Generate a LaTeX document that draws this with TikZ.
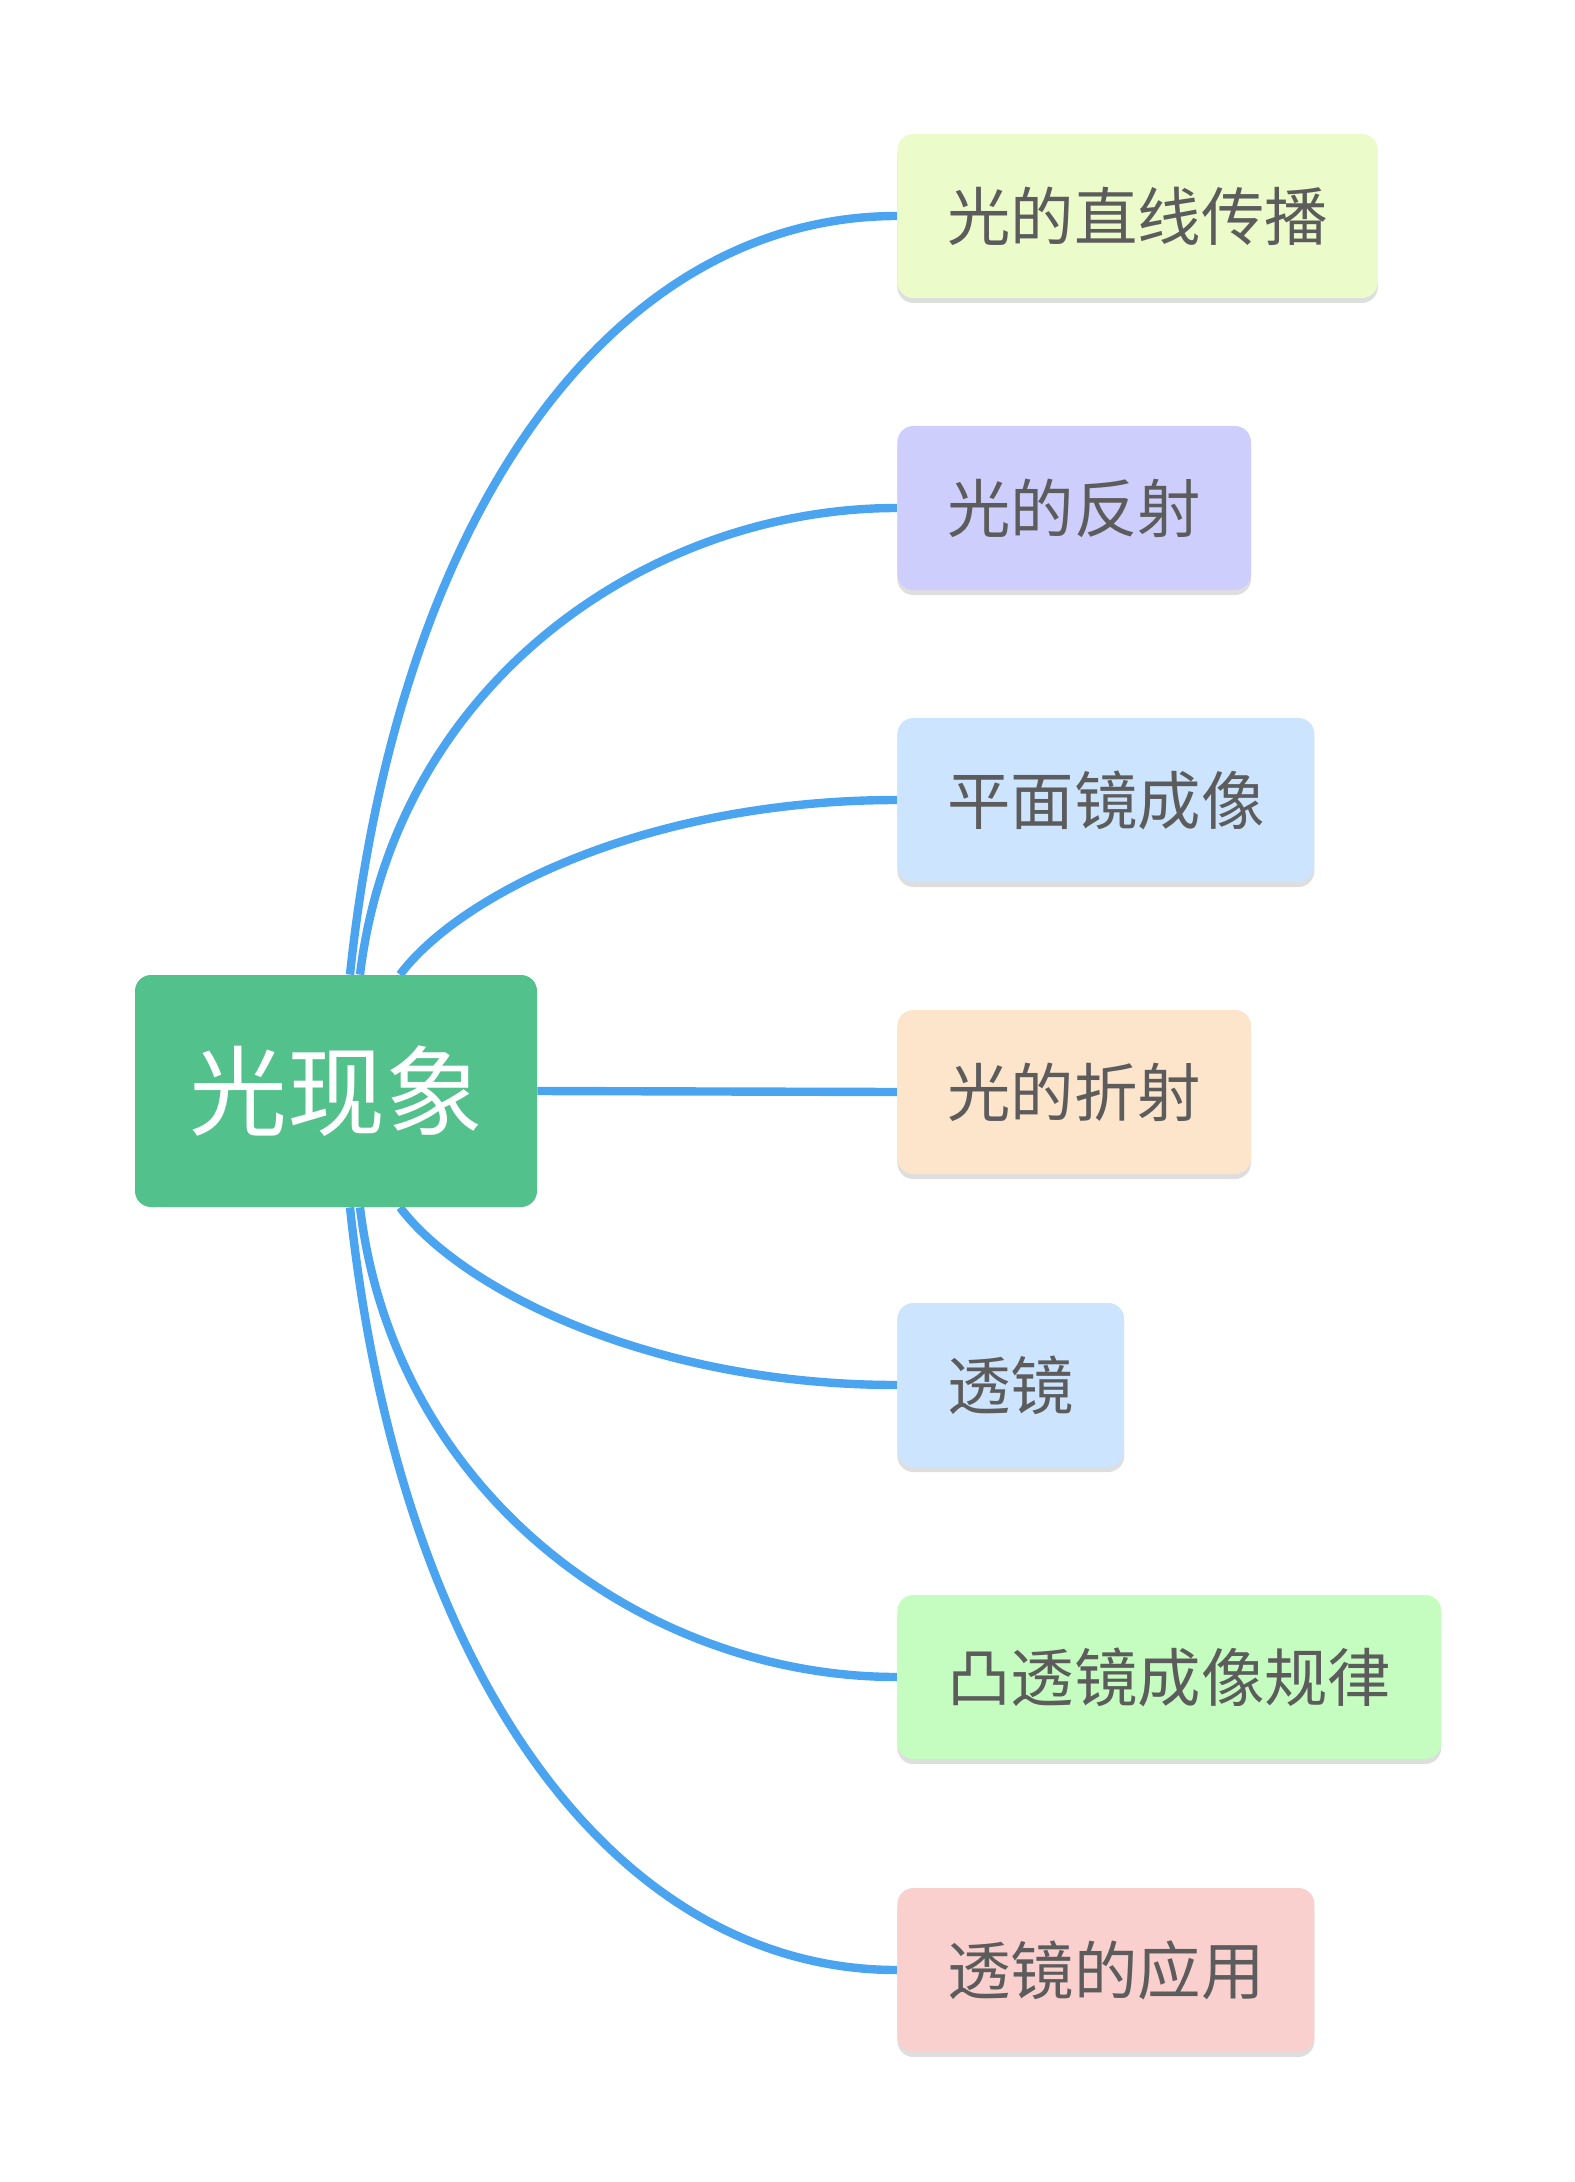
\documentclass[tikz,border=0pt]{standalone}
\usepackage{fontspec}
\newfontfamily\cjk{Noto Sans CJK SC}
\usetikzlibrary{shadows,backgrounds}
\definecolor{rootgreen}{HTML}{52C18B}
\definecolor{linkblue}{HTML}{4BA4EF}
\definecolor{txtgray}{HTML}{5C5C5C}
\definecolor{shadowgray}{HTML}{DEDEDE}
\definecolor{cA}{HTML}{EBFBCA}
\definecolor{cB}{HTML}{CECEFD}
\definecolor{cC}{HTML}{CCE4FD}
\definecolor{cD}{HTML}{FDE5CC}
\definecolor{cE}{HTML}{CCE4FD}
\definecolor{cF}{HTML}{C5FDC0}
\definecolor{cG}{HTML}{F9D0CE}
\begin{document}
\begin{tikzpicture}[x=0.5pt,y=-0.5pt,
  childbox/.style={anchor=west, rounded corners=8pt, inner xsep=25pt, inner ysep=0pt,
    minimum height=82pt, font=\cjk\fontsize{31.7}{31.7}\selectfont, text=txtgray,
    drop shadow={shadow xshift=0pt, shadow yshift=-2.5pt, fill=shadowgray, opacity=1}},
  rootbox/.style={fill=rootgreen, rounded corners=8pt, minimum width=201pt, minimum height=116pt,
    inner sep=0pt, font=\cjk\fontsize{49}{49}\selectfont, text=white},
  link/.style={draw=linkblue, line width=4.2pt}]
\useasboundingbox (0,0) rectangle (1574,2182);
\node[rootbox] (root) at (336,1091) {光现象};
\node[childbox, fill=cA] (b1) at (897,216) {光的直线传播};
\node[childbox, fill=cB] (b2) at (897,508) {光的反射};
\node[childbox, fill=cC] (b3) at (897,800) {平面镜成像};
\node[childbox, fill=cD] (b4) at (897,1092) {光的折射};
\node[childbox, fill=cE] (b5) at (897,1385) {透镜};
\node[childbox, fill=cF] (b6) at (897,1677) {凸透镜成像规律};
\node[childbox, fill=cG] (b7) at (897,1970) {透镜的应用};
\begin{scope}[on background layer]
\draw[link] ([xshift=7pt]root.north) .. controls +(50,-475) and +(-277,0) .. (b1.west);
\draw[link] ([xshift=12pt]root.north) .. controls +(35,-290) and +(-250,0) .. (b2.west);
\draw[link] ([xshift=32pt]root.north) .. controls +(60,-80) and +(-250,0) .. (b3.west);
\draw[link] (root.east) -- (b4.west);
\draw[link] ([xshift=32pt]root.south) .. controls +(60,80) and +(-250,0) .. (b5.west);
\draw[link] ([xshift=12pt]root.south) .. controls +(35,290) and +(-250,0) .. (b6.west);
\draw[link] ([xshift=7pt]root.south) .. controls +(50,475) and +(-277,0) .. (b7.west);
\end{scope}
\end{tikzpicture}
\end{document}
